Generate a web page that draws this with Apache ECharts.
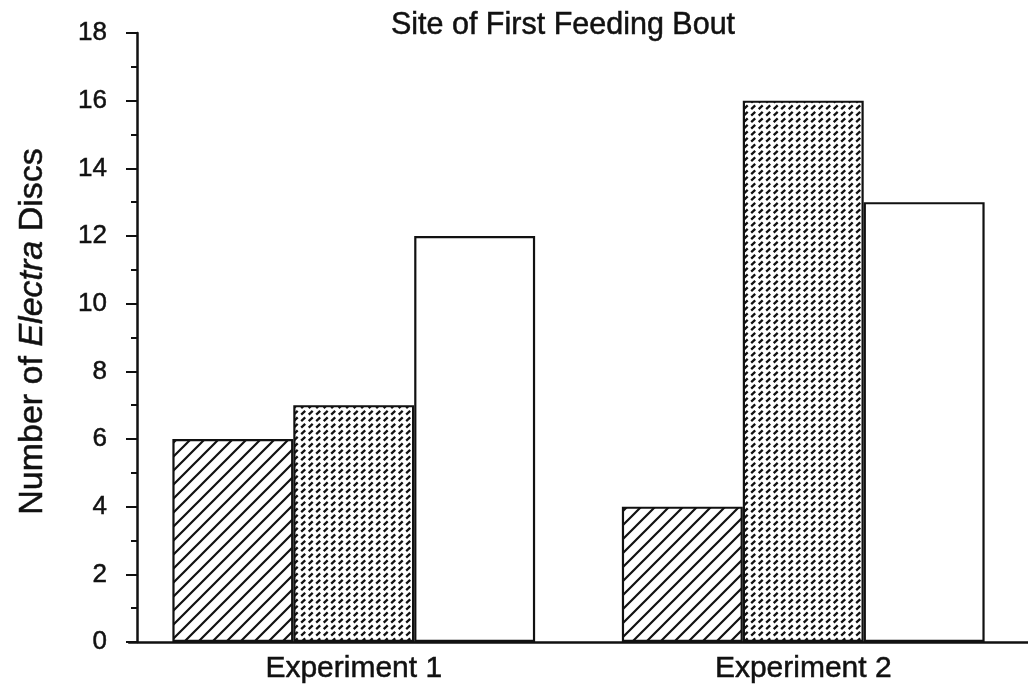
<!DOCTYPE html>
<html>
<head>
<meta charset="utf-8">
<script src="https://cdn.jsdelivr.net/npm/echarts@6/dist/echarts.min.js"></script>
<style>
  html, body { margin: 0; padding: 0; background: #fff; }
  #chart { width: 1028px; height: 698px; }
</style>
</head>
<body>
<div id="chart"></div>
<script>
// Experiments along the x axis
const categories = ['Experiment 1', 'Experiment 2'];
// Number of discs per site, one array per bar fill
const hatchedValues = [6, 4];
const dottedValues = [7, 16];
const openValues = [12, 13];
// y-axis ticks
const yMin = 0;
const yMax = 18;
const yStep = 2;

const INK = '#111';
const FONT = '"Liberation Sans", Arial, Helvetica, sans-serif';
// a thin outline of the same ink gives the text a heavier print look
const HEAVY = { textBorderColor: INK, textBorderWidth: 0.5 };

// Diagonal line hatch
function makeHatch() {
  const s = 14;
  const c = document.createElement('canvas');
  c.width = s; c.height = s;
  const g = c.getContext('2d');
  g.fillStyle = '#fff';
  g.fillRect(0, 0, s, s);
  g.strokeStyle = INK;
  g.lineWidth = 2.2;
  g.beginPath();
  g.moveTo(-3, s + 3); g.lineTo(s + 3, -3);
  g.moveTo(-3, 3); g.lineTo(3, -3);
  g.moveTo(s - 3, s + 3); g.lineTo(s + 3, s - 3);
  g.stroke();
  return c;
}

// Short slanted dash texture, two columns by two rows per tile
function makeDots() {
  const w = 15, h = 13;
  const c = document.createElement('canvas');
  c.width = w; c.height = h;
  const g = c.getContext('2d');
  g.fillStyle = '#fff';
  g.fillRect(0, 0, w, h);
  g.strokeStyle = INK;
  g.lineWidth = 2.3;
  g.lineCap = 'butt';
  g.beginPath();
  [[0, 0], [7.5, 0], [0, 6.5], [7.5, 6.5]].forEach(([x, y]) => {
    g.moveTo(x + 1.2, y + 5.2); g.lineTo(x + 5.2, y + 1.4);
  });
  g.stroke();
  return c;
}

const chart = echarts.init(document.getElementById('chart'), null, { renderer: 'canvas' });

const barBase = {
  type: 'bar',
  barGap: '0%',
  barCategoryGap: '19.3%',
  animation: false,
  silent: true
};

chart.setOption({
  backgroundColor: '#fff',
  animation: false,
  title: {
    text: 'Site of First Feeding Bout',
    left: 558,
    textAlign: 'center',
    top: 5,
    textStyle: Object.assign({ fontFamily: FONT, fontSize: 30.5, fontWeight: 'normal', color: INK }, HEAVY)
  },
  grid: { left: 129, right: 0, top: 33, bottom: 56, containLabel: false },
  xAxis: {
    type: 'category',
    data: categories,
    axisLine: { lineStyle: { color: INK, width: 2.5 } },
    axisTick: { show: false },
    axisLabel: Object.assign({ fontFamily: FONT, fontSize: 30, color: INK, margin: 12 }, HEAVY),
    splitLine: { show: false }
  },
  yAxis: {
    type: 'value',
    min: yMin,
    max: yMax,
    interval: yStep,
    offset: -8,
    name: '{n|Number of }{i|Electra}{n| Discs}',
    nameLocation: 'middle',
    nameGap: 87,
    nameTextStyle: {
      padding: [0, 0, 0, 12],
      rich: {
        n: Object.assign({ fontFamily: FONT, fontSize: 34, color: INK }, HEAVY),
        i: Object.assign({ fontFamily: FONT, fontSize: 34, color: INK, fontStyle: 'italic' }, HEAVY)
      }
    },
    axisLine: { show: true, lineStyle: { color: INK, width: 2.5 } },
    axisTick: { show: true, length: 11, lineStyle: { color: INK, width: 2 } },
    minorTick: { show: true, splitNumber: 2, length: 6, lineStyle: { color: INK, width: 2 } },
    axisLabel: Object.assign({ fontFamily: FONT, fontSize: 26, color: INK, margin: 30 }, HEAVY),
    splitLine: { show: false }
  },
  series: [
    Object.assign({}, barBase, {
      name: 'hatched',
      data: hatchedValues,
      itemStyle: { color: { image: makeHatch(), repeat: 'repeat' }, borderColor: INK, borderWidth: 2.2 }
    }),
    Object.assign({}, barBase, {
      name: 'dotted',
      data: dottedValues,
      itemStyle: { color: { image: makeDots(), repeat: 'repeat' }, borderColor: INK, borderWidth: 2.2 }
    }),
    Object.assign({}, barBase, {
      name: 'open',
      data: openValues,
      itemStyle: { color: '#fff', borderColor: INK, borderWidth: 2.2 }
    })
  ]
});
</script>
</body>
</html>
